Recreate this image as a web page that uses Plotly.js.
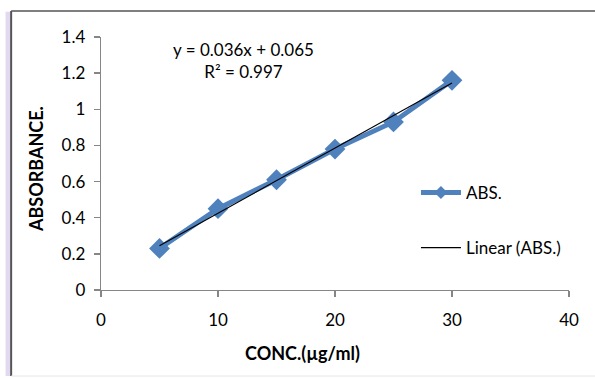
<!DOCTYPE html>
<html>
<head>
<meta charset="utf-8">
<script src="https://cdn.plot.ly/plotly-3.0.1.min.js"></script>
<style>
html,body{margin:0;padding:0;background:#fff;}
#chart{width:595px;height:378px;}
</style>
</head>
<body>
<div id="chart"></div>
<script>
// Data
const concentration = [5, 10, 15, 20, 25, 30];
const absorbance = [0.23, 0.45, 0.61, 0.78, 0.93, 1.16];
// Trendline coefficients as printed on the chart
const slope = 0.036;
const intercept = 0.065;
const r2 = 0.997;
const xTicks = [0, 10, 20, 30, 40];
const yTicks = [0, 0.2, 0.4, 0.6, 0.8, 1, 1.2, 1.4];
const yTickText = ['0', '0.2', '0.4', '0.6', '0.8', '1', '1.2', '1.4'];
const xTitle = 'CONC.(µg/ml)';
const yTitle = 'ABSORBANCE.';

const trendY = concentration.map(x => slope * x + intercept);

const fontFam = 'Lato, "Open Sans", sans-serif';
const axisColor = '#868686';
const blue = '#4F81BD';

const traces = [
  {
    x: concentration, y: absorbance, type: 'scatter', mode: 'lines+markers',
    name: 'ABS.', showlegend: false,
    line: {color: blue, width: 5},
    marker: {symbol: 'diamond', size: 16, color: blue}
  },
  // legend-only entry with the small legend diamond
  {
    x: [null], y: [null], type: 'scatter', mode: 'lines+markers',
    name: 'ABS.', legendgroup: 'a',
    line: {color: blue, width: 5},
    marker: {symbol: 'diamond', size: 10, color: blue}
  },
  {
    x: concentration, y: trendY, type: 'scatter', mode: 'lines',
    name: 'Linear (ABS.)', legendgroup: 'b',
    line: {color: '#000000', width: 1.2}
  }
];

const layout = {
  width: 595, height: 378,
  margin: {l: 101, r: 26, t: 37, b: 88},
  paper_bgcolor: '#ffffff', plot_bgcolor: '#ffffff',
  font: {family: fontFam, size: 17, color: '#000'},
  showlegend: true,
  legend: {
    x: 0.673, y: 0.275, xanchor: 'left', yanchor: 'middle',
    bgcolor: 'rgba(0,0,0,0)', tracegroupgap: 30,
    font: {family: fontFam, size: 17, color: '#000'},
    itemwidth: 40
  },
  xaxis: {
    range: [0, 40], tickvals: xTicks, ticktext: xTicks.map(String),
    showgrid: false, zeroline: false, showline: true, linecolor: axisColor, linewidth: 1.3,
    ticks: 'outside', ticklen: 6, tickcolor: axisColor, tickwidth: 1.3,
    tickfont: {family: fontFam, size: 17}, ticklabelstandoff: 8
  },
  yaxis: {
    range: [0, 1.4], tickvals: yTicks, ticktext: yTickText,
    showgrid: false, zeroline: false, showline: true, linecolor: axisColor, linewidth: 1.3,
    ticks: 'outside', ticklen: 6, tickcolor: axisColor, tickwidth: 1.3,
    tickfont: {family: fontFam, size: 17}, ticklabelstandoff: 5
  },
  annotations: [
    {
      x: 12.2, y: 1.27, xref: 'x', yref: 'y', showarrow: false,
      text: 'y = ' + slope + 'x + ' + intercept + '<br>R² = ' + r2,
      align: 'center', font: {family: fontFam, size: 17, color: '#000'}
    },
    {
      x: 0.43, y: -0.249, xref: 'paper', yref: 'paper', showarrow: false,
      xanchor: 'center', yanchor: 'middle',
      text: '<b>' + xTitle + '</b>', font: {family: fontFam, size: 18, color: '#000'}
    },
    {
      x: -0.139, y: 0.478, xref: 'paper', yref: 'paper', showarrow: false,
      xanchor: 'center', yanchor: 'middle', textangle: -90,
      text: '<b>' + yTitle + '</b>', font: {family: fontFam, size: 18, color: '#000'}
    }
  ],
  shapes: [
    {type: 'rect', xref: 'paper', yref: 'paper', x0: -0.204, x1: -0.192, y0: -0.34, y1: 1.10,
     fillcolor: 'rgba(190,170,225,0.45)', line: {width: 0}, layer: 'below'},
    {type: 'line', xref: 'paper', yref: 'paper', x0: -0.192, x1: -0.192, y0: -0.34, y1: 1.103,
     line: {color: '#555555', width: 2}},
    {type: 'line', xref: 'paper', yref: 'paper', x0: -0.192, x1: 1.06, y0: 1.103, y1: 1.103,
     line: {color: '#555555', width: 1.6}},
    {type: 'line', xref: 'paper', yref: 'paper', x0: -0.192, x1: 1.06, y0: -0.34, y1: -0.34,
     line: {color: '#e6e6e6', width: 1}}
  ]
};

Plotly.newPlot('chart', traces, layout, {displayModeBar: false, staticPlot: true});
</script>
</body>
</html>
